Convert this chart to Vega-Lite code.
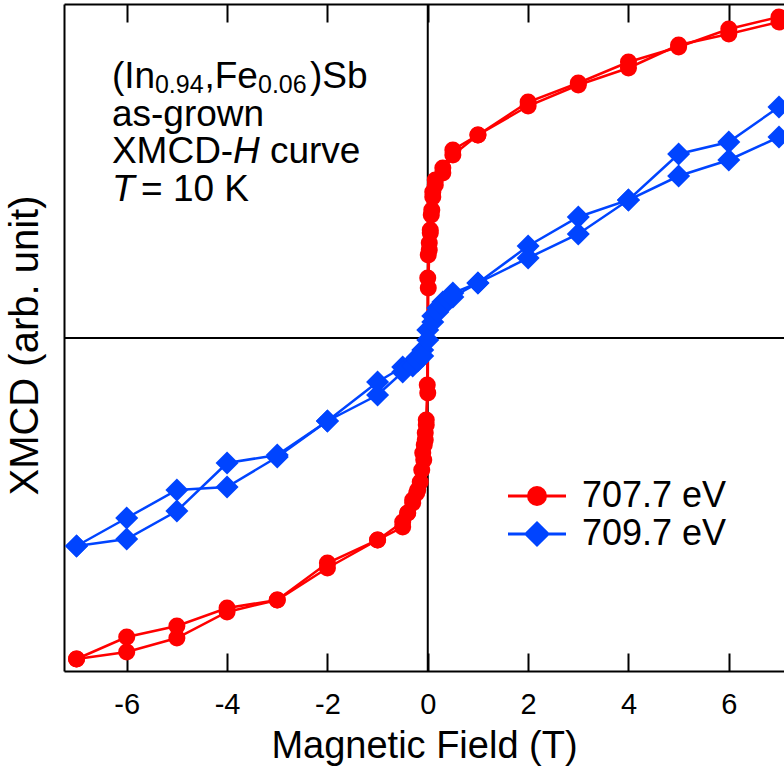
{
  "$schema": "https://vega.github.io/schema/vega-lite/v6.json",
  "width": 720,
  "height": 667,
  "autosize": {"type": "none"},
  "padding": {"left": 64, "top": 4, "right": 0, "bottom": 105},
  "background": "white",
  "config": {
    "view": {"stroke": null},
    "font": "Liberation Sans",
    "legend": {
      "orient": "none", "legendX": 455, "padding": 0,
      "symbolSize": 400, "labelFontSize": 36, "labelFont": "Liberation Sans", "labelColor": "black",
      "labelOffset": 27, "symbolStrokeWidth": 3, "labelLimit": 400, "symbolOpacity": 1
    }
  },
  "resolve": {"axis": {"x": "independent", "y": "independent"}, "scale": {"color": "independent"}},
  "datasets": {
    "zero": [{"v": 0}],
    "xmcd": [
      {"E": "707.7 eV", "b": "down", "H": 7, "M": 316},
      {"E": "707.7 eV", "b": "down", "H": 6, "M": 304},
      {"E": "707.7 eV", "b": "down", "H": 5, "M": 293},
      {"E": "707.7 eV", "b": "down", "H": 4, "M": 270},
      {"E": "707.7 eV", "b": "down", "H": 3, "M": 253},
      {"E": "707.7 eV", "b": "down", "H": 2, "M": 232},
      {"E": "707.7 eV", "b": "down", "H": 1, "M": 203},
      {"E": "707.7 eV", "b": "down", "H": 0.5, "M": 183},
      {"E": "707.7 eV", "b": "down", "H": 0.3, "M": 165},
      {"E": "707.7 eV", "b": "down", "H": 0.15, "M": 153},
      {"E": "707.7 eV", "b": "down", "H": 0.1, "M": 141},
      {"E": "707.7 eV", "b": "down", "H": 0.07, "M": 123},
      {"E": "707.7 eV", "b": "down", "H": 0.05, "M": 105},
      {"E": "707.7 eV", "b": "down", "H": 0.03, "M": 95},
      {"E": "707.7 eV", "b": "down", "H": 0.01, "M": 83},
      {"E": "707.7 eV", "b": "down", "H": 0, "M": 60},
      {"E": "707.7 eV", "b": "down", "H": -0.01, "M": -47},
      {"E": "707.7 eV", "b": "down", "H": -0.03, "M": -82},
      {"E": "707.7 eV", "b": "down", "H": -0.05, "M": -102},
      {"E": "707.7 eV", "b": "down", "H": -0.08, "M": -122},
      {"E": "707.7 eV", "b": "down", "H": -0.12, "M": -132},
      {"E": "707.7 eV", "b": "down", "H": -0.15, "M": -144},
      {"E": "707.7 eV", "b": "down", "H": -0.22, "M": -155},
      {"E": "707.7 eV", "b": "down", "H": -0.3, "M": -165},
      {"E": "707.7 eV", "b": "down", "H": -0.4, "M": -175},
      {"E": "707.7 eV", "b": "down", "H": -0.5, "M": -189},
      {"E": "707.7 eV", "b": "down", "H": -1, "M": -202},
      {"E": "707.7 eV", "b": "down", "H": -2, "M": -230},
      {"E": "707.7 eV", "b": "down", "H": -3, "M": -262},
      {"E": "707.7 eV", "b": "down", "H": -4, "M": -274},
      {"E": "707.7 eV", "b": "down", "H": -5, "M": -300},
      {"E": "707.7 eV", "b": "down", "H": -6, "M": -314},
      {"E": "707.7 eV", "b": "down", "H": -7, "M": -321},
      {"E": "707.7 eV", "b": "up", "H": -7, "M": -321},
      {"E": "707.7 eV", "b": "up", "H": -6, "M": -299},
      {"E": "707.7 eV", "b": "up", "H": -5, "M": -288},
      {"E": "707.7 eV", "b": "up", "H": -4, "M": -270},
      {"E": "707.7 eV", "b": "up", "H": -3, "M": -262},
      {"E": "707.7 eV", "b": "up", "H": -2, "M": -225},
      {"E": "707.7 eV", "b": "up", "H": -1, "M": -202},
      {"E": "707.7 eV", "b": "up", "H": -0.5, "M": -184},
      {"E": "707.7 eV", "b": "up", "H": -0.4, "M": -175},
      {"E": "707.7 eV", "b": "up", "H": -0.3, "M": -162},
      {"E": "707.7 eV", "b": "up", "H": -0.2, "M": -152},
      {"E": "707.7 eV", "b": "up", "H": -0.1, "M": -115},
      {"E": "707.7 eV", "b": "up", "H": -0.07, "M": -107},
      {"E": "707.7 eV", "b": "up", "H": -0.05, "M": -95},
      {"E": "707.7 eV", "b": "up", "H": -0.03, "M": -87},
      {"E": "707.7 eV", "b": "up", "H": 0, "M": -55},
      {"E": "707.7 eV", "b": "up", "H": 0.01, "M": 50},
      {"E": "707.7 eV", "b": "up", "H": 0.03, "M": 88},
      {"E": "707.7 eV", "b": "up", "H": 0.05, "M": 108},
      {"E": "707.7 eV", "b": "up", "H": 0.08, "M": 128},
      {"E": "707.7 eV", "b": "up", "H": 0.1, "M": 146},
      {"E": "707.7 eV", "b": "up", "H": 0.15, "M": 158},
      {"E": "707.7 eV", "b": "up", "H": 0.3, "M": 170},
      {"E": "707.7 eV", "b": "up", "H": 0.5, "M": 188},
      {"E": "707.7 eV", "b": "up", "H": 1, "M": 203},
      {"E": "707.7 eV", "b": "up", "H": 2, "M": 236},
      {"E": "707.7 eV", "b": "up", "H": 3, "M": 255},
      {"E": "707.7 eV", "b": "up", "H": 4, "M": 276},
      {"E": "707.7 eV", "b": "up", "H": 5, "M": 291},
      {"E": "707.7 eV", "b": "up", "H": 6, "M": 309},
      {"E": "707.7 eV", "b": "up", "H": 7, "M": 321},
      {"E": "709.7 eV", "b": "down", "H": 7, "M": 231},
      {"E": "709.7 eV", "b": "down", "H": 6, "M": 196},
      {"E": "709.7 eV", "b": "down", "H": 5, "M": 184},
      {"E": "709.7 eV", "b": "down", "H": 4, "M": 138},
      {"E": "709.7 eV", "b": "down", "H": 3, "M": 121},
      {"E": "709.7 eV", "b": "down", "H": 2, "M": 92},
      {"E": "709.7 eV", "b": "down", "H": 1, "M": 55},
      {"E": "709.7 eV", "b": "down", "H": 0.5, "M": 45},
      {"E": "709.7 eV", "b": "down", "H": 0.3, "M": 36},
      {"E": "709.7 eV", "b": "down", "H": 0.2, "M": 30},
      {"E": "709.7 eV", "b": "down", "H": 0.1, "M": 22},
      {"E": "709.7 eV", "b": "down", "H": 0, "M": 8},
      {"E": "709.7 eV", "b": "down", "H": -0.1, "M": -12},
      {"E": "709.7 eV", "b": "down", "H": -0.2, "M": -19},
      {"E": "709.7 eV", "b": "down", "H": -0.3, "M": -24},
      {"E": "709.7 eV", "b": "down", "H": -0.5, "M": -29},
      {"E": "709.7 eV", "b": "down", "H": -1, "M": -44},
      {"E": "709.7 eV", "b": "down", "H": -2, "M": -83},
      {"E": "709.7 eV", "b": "down", "H": -3, "M": -119},
      {"E": "709.7 eV", "b": "down", "H": -4, "M": -149},
      {"E": "709.7 eV", "b": "down", "H": -5, "M": -152},
      {"E": "709.7 eV", "b": "down", "H": -6, "M": -180},
      {"E": "709.7 eV", "b": "down", "H": -7, "M": -208},
      {"E": "709.7 eV", "b": "up", "H": -7, "M": -208},
      {"E": "709.7 eV", "b": "up", "H": -6, "M": -201},
      {"E": "709.7 eV", "b": "up", "H": -5, "M": -173},
      {"E": "709.7 eV", "b": "up", "H": -4, "M": -125},
      {"E": "709.7 eV", "b": "up", "H": -3, "M": -117},
      {"E": "709.7 eV", "b": "up", "H": -2, "M": -83},
      {"E": "709.7 eV", "b": "up", "H": -1, "M": -57},
      {"E": "709.7 eV", "b": "up", "H": -0.5, "M": -34},
      {"E": "709.7 eV", "b": "up", "H": -0.3, "M": -28},
      {"E": "709.7 eV", "b": "up", "H": -0.2, "M": -23},
      {"E": "709.7 eV", "b": "up", "H": -0.1, "M": -18},
      {"E": "709.7 eV", "b": "up", "H": 0, "M": -2},
      {"E": "709.7 eV", "b": "up", "H": 0.1, "M": 16},
      {"E": "709.7 eV", "b": "up", "H": 0.2, "M": 26},
      {"E": "709.7 eV", "b": "up", "H": 0.3, "M": 32},
      {"E": "709.7 eV", "b": "up", "H": 0.4, "M": 38},
      {"E": "709.7 eV", "b": "up", "H": 0.5, "M": 41},
      {"E": "709.7 eV", "b": "up", "H": 1, "M": 55},
      {"E": "709.7 eV", "b": "up", "H": 2, "M": 80},
      {"E": "709.7 eV", "b": "up", "H": 3, "M": 104},
      {"E": "709.7 eV", "b": "up", "H": 4, "M": 138},
      {"E": "709.7 eV", "b": "up", "H": 5, "M": 162},
      {"E": "709.7 eV", "b": "up", "H": 6, "M": 178},
      {"E": "709.7 eV", "b": "up", "H": 7, "M": 201}
    ],
    "notes_main": [
      {"t": "(In", "H": -6.295, "M": 250},
      {"t": ",Fe", "H": -4.45, "M": 250},
      {"t": ")Sb", "H": -2.348, "M": 250},
      {"t": "as-grown", "H": -6.295, "M": 212.5},
      {"t": "XMCD-", "H": -6.295, "M": 175},
      {"t": "curve", "H": -3.146, "M": 175},
      {"t": "= 10 K", "H": -5.715, "M": 137.5}
    ],
    "notes_sub": [
      {"t": "0.94", "H": -5.437, "M": 245},
      {"t": "0.06", "H": -3.384, "M": 245}
    ],
    "notes_italic": [
      {"t": "H", "H": -3.883, "M": 175},
      {"t": "T", "H": -6.295, "M": 137.5}
    ]
  },
  "layer": [
    {
      "data": {"name": "zero"},
      "mark": {"type": "rule", "color": "black", "strokeWidth": 2},
      "encoding": {
        "y": {"field": "v", "type": "quantitative", "scale": {"domain": [-333, 334], "nice": false, "zero": false},
          "axis": {"title": "XMCD (arb. unit)", "ticks": false, "tickSize": 0, "labels": false, "grid": false, "domain": true,
            "domainColor": "black", "domainWidth": 2, "titleFontSize": 40, "titleFont": "Liberation Sans",
            "titleFontWeight": "normal", "titleColor": "black", "titlePadding": 19, "titleY": 341}}
      }
    },
    {
      "data": {"name": "zero"},
      "mark": {"type": "rule", "color": "black", "strokeWidth": 2},
      "encoding": {
        "x": {"field": "v", "type": "quantitative", "scale": {"domain": [-7.25, 7.1], "nice": false, "zero": false}, "axis": null}
      }
    },
    {
      "data": {"name": "xmcd"},
      "transform": [{"filter": "datum.E === '707.7 eV'"}],
      "mark": {"type": "line", "color": "#ff0000", "strokeWidth": 2.5},
      "encoding": {
        "x": {"field": "H", "type": "quantitative", "scale": {"domain": [-7.25, 7.1], "nice": false, "zero": false},
          "axis": {"orient": "bottom", "title": "Magnetic Field (T)", "values": [-6, -4, -2, 0, 2, 4, 6],
            "labelExpr": "'' + datum.value",
            "ticks": false, "tickSize": 0, "domainColor": "black", "domainWidth": 2,
            "grid": true, "gridColor": "black", "gridWidth": 2, "gridOpacity": 1, "gridDash": [18, 631],
            "labelFontSize": 29, "labelFont": "Liberation Sans", "labelColor": "black",
            "labelPadding": 19, "labelFlush": false, "titleFontSize": 38, "titleFont": "Liberation Sans",
            "titleFontWeight": "normal", "titleColor": "black", "titlePadding": 8}},
        "y": {"field": "M", "type": "quantitative", "scale": {"domain": [-333, 334], "nice": false, "zero": false}, "axis": null},
        "detail": {"field": "b", "type": "nominal"}
      }
    },
    {
      "data": {"name": "xmcd"},
      "transform": [{"filter": "datum.E === '707.7 eV'"}],
      "mark": {"type": "point", "filled": true, "opacity": 1, "size": 290, "shape": "circle"},
      "encoding": {
        "x": {"field": "H", "type": "quantitative", "axis": null},
        "y": {"field": "M", "type": "quantitative", "axis": null},
        "color": {"field": "E", "type": "nominal",
          "scale": {"domain": ["707.7 eV"], "range": ["#ff0000"]},
          "legend": {"title": null, "legendY": 474,
            "symbolType": "M-2.9,0H2.9M0.85,0A0.85,0.85,0,1,1,-0.85,0A0.85,0.85,0,1,1,0.85,0Z",
            "symbolStrokeColor": "#ff0000", "symbolFillColor": "#ff0000"}}
      }
    },
    {
      "data": {"name": "xmcd"},
      "transform": [{"filter": "datum.E === '709.7 eV'"}],
      "mark": {"type": "line", "color": "#0044ff", "strokeWidth": 2.5},
      "encoding": {
        "x": {"field": "H", "type": "quantitative",
          "axis": {"orient": "top", "labels": false, "ticks": false, "title": null, "domain": true,
            "domainColor": "black", "domainWidth": 2, "grid": false}},
        "y": {"field": "M", "type": "quantitative", "axis": null},
        "detail": {"field": "b", "type": "nominal"}
      }
    },
    {
      "data": {"name": "xmcd"},
      "transform": [{"filter": "datum.E === '709.7 eV'"}],
      "mark": {"type": "point", "filled": true, "opacity": 1, "size": 530, "shape": "diamond"},
      "encoding": {
        "x": {"field": "H", "type": "quantitative", "axis": null},
        "y": {"field": "M", "type": "quantitative", "axis": null},
        "color": {"field": "E", "type": "nominal",
          "scale": {"domain": ["709.7 eV"], "range": ["#0044ff"]},
          "legend": {"title": null, "legendY": 512,
            "symbolType": "M-2.9,0H2.9M0,-1.1L1.1,0L0,1.1L-1.1,0Z",
            "symbolStrokeColor": "#0044ff", "symbolFillColor": "#0044ff"}}
      }
    },
    {
      "data": {"name": "notes_main"},
      "mark": {"type": "text", "align": "left", "baseline": "alphabetic", "fontSize": 37, "font": "Liberation Sans", "color": "black"},
      "encoding": {
        "x": {"field": "H", "type": "quantitative", "axis": null},
        "y": {"field": "M", "type": "quantitative", "axis": null},
        "text": {"field": "t"}
      }
    },
    {
      "data": {"name": "notes_sub"},
      "mark": {"type": "text", "align": "left", "baseline": "alphabetic", "fontSize": 25, "font": "Liberation Sans", "color": "black"},
      "encoding": {
        "x": {"field": "H", "type": "quantitative", "axis": null},
        "y": {"field": "M", "type": "quantitative", "axis": null},
        "text": {"field": "t"}
      }
    },
    {
      "data": {"name": "notes_italic"},
      "mark": {"type": "text", "align": "left", "baseline": "alphabetic", "fontSize": 37, "font": "Liberation Sans", "fontStyle": "italic", "color": "black"},
      "encoding": {
        "x": {"field": "H", "type": "quantitative", "axis": null},
        "y": {"field": "M", "type": "quantitative", "axis": null},
        "text": {"field": "t"}
      }
    }
  ]
}
